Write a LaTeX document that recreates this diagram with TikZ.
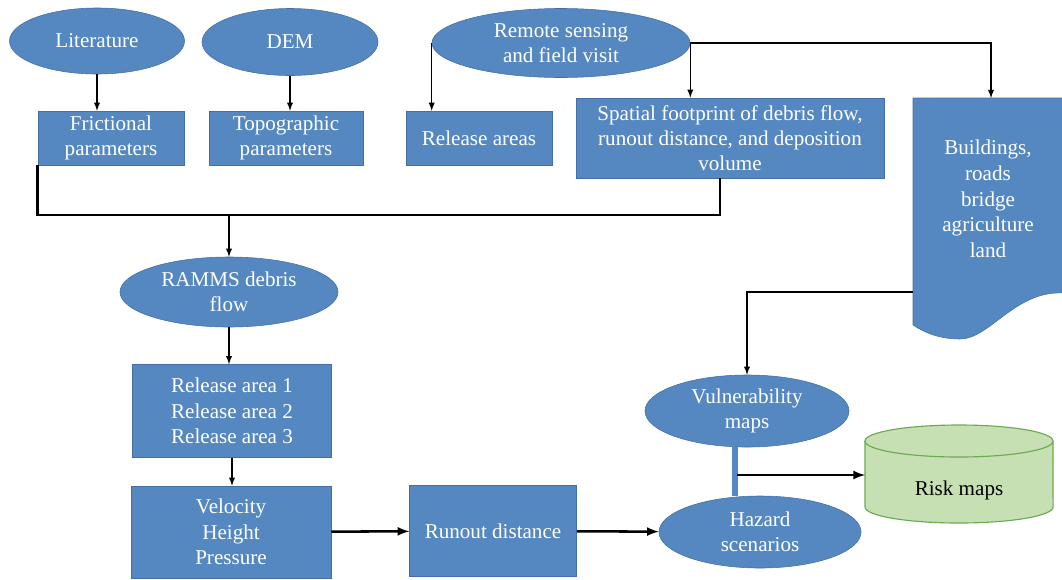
\documentclass[tikz,border=0pt]{standalone}
\usepackage{fontspec}
\setmainfont{Liberation Serif}
\usetikzlibrary{shapes.geometric}
\definecolor{boxblue}{RGB}{85,136,192}
\definecolor{boxedge}{RGB}{66,112,166}
\definecolor{riskfill}{RGB}{198,224,180}
\definecolor{riskedge}{RGB}{106,170,80}
\begin{document}
\begin{tikzpicture}[x=0.025cm,y=-0.025cm,
  blk/.style={draw=boxedge,fill=boxblue,text=white,align=center,inner sep=0pt,
    font=\fontsize{15pt}{18pt}\selectfont},
  oval/.style={blk,ellipse},
  arr/.style={-latex,line width=1pt},
  fat/.style={-latex,line width=1.8pt},
  bus/.style={line width=1.8pt}]
  \useasboundingbox (0,0) rectangle (1062,579);
  % inputs
  \node[oval,minimum width=4.375cm,minimum height=1.65cm] (lit) at (97,41) {Literature};
  \node[oval,minimum width=4.4cm,minimum height=1.675cm] (dem) at (290,42) {DEM};
  \node[oval,minimum width=6.45cm,minimum height=1.725cm] (rs) at (561,43) {Remote sensing\\and field visit};
  \node[blk,minimum width=3.65cm,minimum height=1.35cm] (fric) at (111,138) {Frictional\\parameters};
  \node[blk,minimum width=3.85cm,minimum height=1.35cm] (topo) at (286,138) {Topographic\\parameters};
  \node[blk,minimum width=3.65cm,minimum height=1.35cm] (rel) at (479,138) {Release areas};
  \node[blk,minimum width=7.7cm,minimum height=2cm] (spat) at (730,138) {Spatial footprint of debris flow,\\runout distance, and deposition\\volume};
  % elements at risk
  \filldraw[draw=boxedge,fill=boxblue] (913,98) -- (1064,98) -- (1064,293)
    .. controls (1015,290) and (990,339) .. (960,339)
    .. controls (940,339) and (925,333) .. (913,325) -- cycle;
  \node[text=white,align=center,font=\fontsize{15pt}{18.3pt}\selectfont] (bld) at (988,199) {Buildings,\\roads\\bridge\\agriculture\\land};
  \coordinate (bldtop) at (991,98);
  \coordinate (bldleft) at (913,292);
  % model chain
  \node[oval,minimum width=5.45cm,minimum height=1.75cm] (ramms) at (229,292) {RAMMS debris\\flow};
  \node[blk,minimum width=4.975cm,minimum height=2.325cm] (rels) at (232,411) {Release area 1\\Release area 2\\Release area 3};
  \node[blk,minimum width=5cm,minimum height=2.3cm] (vel) at (231,532) {Velocity\\Height\\Pressure};
  \node[blk,minimum width=4.175cm,minimum height=2.275cm] (run) at (493,531) {Runout distance};
  \node[oval,minimum width=5.1cm,minimum height=1.8cm] (vul) at (747,411) {Vulnerability\\maps};
  \node[oval,minimum width=5.05cm,minimum height=1.8cm] (haz) at (760,532) {Hazard\\scenarios};
  % risk maps
  \filldraw[draw=riskedge,fill=riskfill,line width=0.8pt] (865,441) -- (865,507)
    arc[start angle=180,end angle=360,x radius=2.35cm,y radius=0.4cm] -- (1053,441)
    arc[start angle=0,end angle=180,x radius=2.35cm,y radius=0.4cm] -- cycle;
  \draw[draw=riskedge,line width=0.8pt] (865,441) arc[start angle=180,end angle=360,x radius=2.35cm,y radius=0.4cm];
  \node[font=\fontsize{15pt}{18pt}\selectfont] (risk) at (959,490) {Risk maps};
  \coordinate (riskleft) at (865,475);
  % connectors
  \draw[arr] (lit.south) -- (lit.south |- fric.north);
  \draw[arr] (dem.south) -- (dem.south |- topo.north);
  \draw[arr] (rs.west) -- (rs.west |- rel.north);
  \draw[arr] (rs.east) -- (rs.east |- spat.north);
  \draw[arr] (rs.east) -| (bldtop);
  \coordinate (busc) at (229,215);
  \draw[bus] (fric.south west) |- (busc) -| ([xshift=-0.25cm]spat.south);
  \draw[arr] (busc) -- (ramms.north);
  \draw[arr] (ramms.south) -- (ramms.south |- rels.north);
  \draw[arr] (rels.south) -- (rels.south |- vel.north);
  \draw[fat] (vel) -- (run);
  \draw[fat] (run) -- (haz);
  \draw[arr] (bldleft) -| (vul.north);
  \draw[boxblue,line width=4.5pt] (vul.south -| 735,0) -- (haz.north -| 735,0);
  \coordinate (barmid) at (737,475);
  \draw[fat] (barmid) -- (riskleft);
\end{tikzpicture}
\end{document}
